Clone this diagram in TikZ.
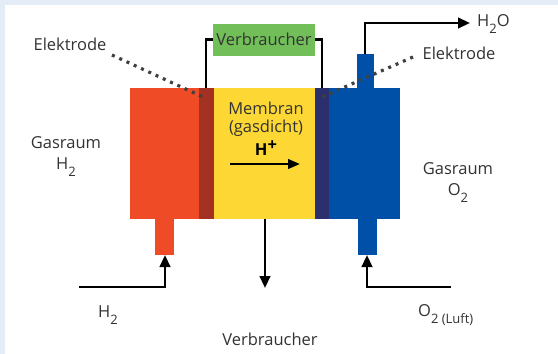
\documentclass[tikz,border=0pt]{standalone}
\usepackage{fontspec}
\setmainfont{Open Sans}
\usetikzlibrary{arrows.meta}
\definecolor{bgblue}{HTML}{E4ECF5}
\definecolor{cred}{HTML}{EE4B26}
\definecolor{cdred}{HTML}{A33222}
\definecolor{cyel}{HTML}{FDD835}
\definecolor{cnavy}{HTML}{2B2F6E}
\definecolor{cblue}{HTML}{0050A8}
\definecolor{cgreen}{HTML}{72BF5A}
\definecolor{ctext}{HTML}{333333}
\newcommand{\lowr}[1]{\raisebox{-0.38em}{\fontsize{13}{13}\selectfont #1}}
\tikzset{
  lbl/.style={font=\fontsize{16.5}{19}\selectfont, text=ctext, inner sep=0pt, align=center},
  wire/.style={line width=2.5pt, black},
  flow/.style={line width=2.5pt, black, -{Triangle[length=12pt,width=10.5pt]}},
  dots/.style={line width=3.2pt, draw=black!75, dash pattern=on 3pt off 5pt},
}
\begin{document}
\begin{tikzpicture}[x=1pt,y=-1pt]
\useasboundingbox (0,0) rectangle (558,354);
\fill[bgblue] (0,0) rectangle (558,354);
\fill[white] (5,5) rectangle (558,354);
% cell blocks
\fill[cred] (129.5,87.5) rectangle (199,219);
\fill[cdred] (199,87.5) rectangle (214,219);
\fill[cyel] (214,87.5) rectangle (315,219);
\fill[cnavy] (315,87.5) rectangle (329,219);
\fill[cblue] (329,87.5) rectangle (400,219);
% pipes
\fill[cred] (155,219) rectangle (174,255);
\fill[cblue] (358,219) rectangle (377,255);
\fill[cblue] (357,54) rectangle (374,87.5);
% nodes
\node[fill=cgreen, minimum width=102pt, minimum height=32pt, inner sep=0pt, font=\fontsize{16.5}{19}\selectfont, text=ctext] (verb) at (264,39.5) {Verbraucher};
\coordinate (lwtop) at (206,87.5);
\coordinate (rwtop) at (322,87.5);
\draw[wire] (lwtop) |- (verb.west);
\draw[wire] (rwtop) |- (verb.east);
% water out
\coordinate (wstart) at (365,54);
\coordinate (wend) at (470,23);
\draw[flow] (wstart) |- (wend);
\node[lbl, anchor=west] (h2o) at (477,24) {H\lowr{2}O};
% inputs
\coordinate (h2in) at (79,287);
\coordinate (h2pipe) at (165,255);
\draw[flow] (h2in) -| (h2pipe);
\coordinate (o2in) at (451,287);
\coordinate (o2pipe) at (367,255);
\draw[flow] (o2in) -| (o2pipe);
\coordinate (mbot) at (265,219);
\coordinate (mend) at (265,288);
\draw[flow] (mbot) -- (mend);
% H+ arrow
\coordinate (hp1) at (230,164);
\coordinate (hp2) at (300,164);
\draw[line width=2.5pt, -{Triangle[length=12pt,width=9.5pt]}] (hp1) -- (hp2);
% labels
\node[lbl] (el1) at (70,44) {Elektrode};
\node[lbl] (el2) at (459,53) {Elektrode};
\node[lbl] (mem) at (266,108) {Membran};
\node[lbl] (gas) at (266,128) {(gasdicht)};
\node[lbl, font=\fontsize{16.5}{19}\selectfont\bfseries, text=black] (hplus) at (266,148) {H\raisebox{0.35em}{+}};
\node[lbl] (g1) at (66,143) {Gasraum};
\node[lbl] (g1b) at (66,167) {H\lowr{2}};
\node[lbl] (g2) at (458,169) {Gasraum};
\node[lbl] (g2b) at (458,193) {O\lowr{2}};
\node[lbl] (h2l) at (108,315) {H\lowr{2}};
\node[lbl, anchor=west] (o2l) at (418,315) {O\lowr{2 (Luft)}};
\node[lbl] (vb) at (270,339) {Verbraucher};
% dotted leader lines
\coordinate (d1a) at (112,55);
\coordinate (d1b) at (203,97);
\draw[dots] (d1a) -- (d1b);
\coordinate (d2a) at (413,57);
\coordinate (d2b) at (322,97);
\draw[dots] (d2a) -- (d2b);
\end{tikzpicture}
\end{document}
